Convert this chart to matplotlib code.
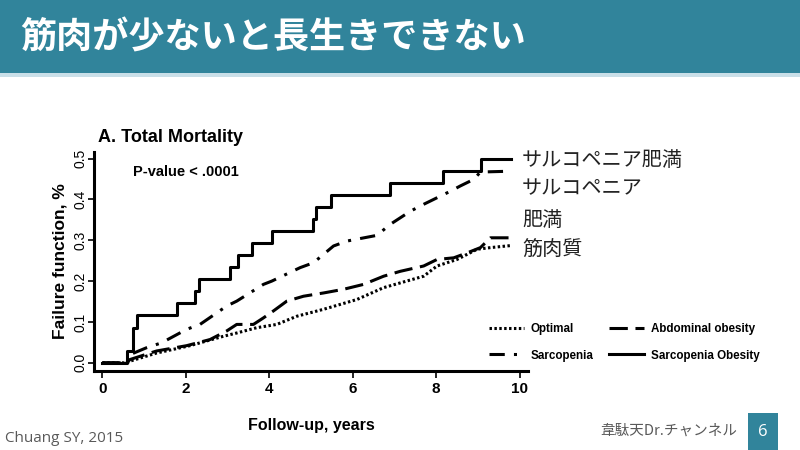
import matplotlib.pyplot as plt
from matplotlib.patches import Rectangle

# Sarcopenic obesity (step curve)
so_t = [0, 0.59, 0.74, 0.82, 1.78, 2.22, 2.32, 3.06, 3.24, 3.58, 4.07, 5.04, 5.12, 5.47, 6.90, 8.16, 9.07, 9.79]
so_v = [0.0, 0.029, 0.086, 0.118, 0.146, 0.176, 0.206, 0.234, 0.264, 0.294, 0.322, 0.353, 0.382, 0.411, 0.441, 0.470, 0.500, 0.500]

# Sarcopenia
sa_t = [0, 0.59, 0.66, 1.06, 1.42, 2.02, 2.34, 2.98, 3.22, 3.86, 4.06, 4.74, 5.06, 5.54, 5.86, 6.58, 6.90, 7.38, 7.70, 8.34, 8.58, 8.90, 9.06, 9.79]
sa_v = [0.0, 0.0, 0.020, 0.037, 0.049, 0.082, 0.094, 0.139, 0.151, 0.192, 0.200, 0.233, 0.245, 0.286, 0.298, 0.312, 0.339, 0.371, 0.388, 0.420, 0.433, 0.449, 0.467, 0.469]

# Abdominal obesity
ab_t = [0, 0.59, 0.66, 1.30, 2.02, 2.58, 2.98, 3.22, 3.62, 3.86, 4.10, 4.42, 4.82, 5.30, 5.78, 6.26, 6.74, 7.14, 7.70, 8.02, 8.42, 8.74, 9.06, 9.30, 9.79]
ab_v = [0.0, 0.0, 0.008, 0.029, 0.042, 0.057, 0.078, 0.094, 0.094, 0.110, 0.127, 0.151, 0.163, 0.171, 0.180, 0.192, 0.212, 0.224, 0.237, 0.253, 0.257, 0.269, 0.282, 0.306, 0.306]

# Optimal
op_t = [0, 0.59, 0.66, 1.30, 2.10, 2.90, 3.22, 3.70, 4.18, 4.66, 5.30, 6.10, 6.74, 7.70, 8.02, 8.50, 8.98, 9.30, 9.79]
op_v = [0.0, 0.0, 0.004, 0.024, 0.042, 0.065, 0.073, 0.086, 0.094, 0.114, 0.131, 0.155, 0.184, 0.212, 0.237, 0.253, 0.278, 0.282, 0.287]

x_ticks = [0, 2, 4, 6, 8, 10]
y_ticks = [0.0, 0.1, 0.2, 0.3, 0.4, 0.5]

right_labels = ["サルコペニア肥満", "サルコペニア", "肥満", "筋肉質"]
right_label_y = [160, 189, 220, 250]  # pixel rows

TEAL = "#31849B"
JP = ["Noto Sans CJK JP", "DejaVu Sans"]
ARIAL = ["Liberation Sans", "DejaVu Sans"]

fig = plt.figure(figsize=(8, 4.5), dpi=100)
fig.patch.set_facecolor("white")

# title band
fig.add_artist(Rectangle((0, 1 - 73 / 450), 1, 73 / 450, transform=fig.transFigure,
                         facecolor=TEAL, edgecolor="none"))
fig.add_artist(Rectangle((0, 1 - 77 / 450), 1, 4 / 450, transform=fig.transFigure,
                         facecolor="#C9DFE8", edgecolor="none"))
fig.text(20 / 800, 1 - 38 / 450, "筋肉が少ないと長生きできない", color="white",
         fontsize=26, fontweight="bold", family=JP, va="center", ha="left")

ax = fig.add_axes([94 / 800, 79 / 450, 434 / 800, 219 / 450])
lw = 2.2
ax.plot(op_t, op_v, color="black", lw=lw, linestyle=(0, (0.8, 0.8)), label="Optimal")
ax.plot(sa_t, sa_v, color="black", lw=lw, linestyle=(0, (5, 3, 1, 3)), label="Sarcopenia")
ax.plot(ab_t, ab_v, color="black", lw=lw, linestyle=(0, (6, 2.5)), label="Abdominal obesity")
ax.step(so_t, so_v, where="post", color="black", lw=lw, label="Sarcopenia Obesity")

ax.set_xlim(-0.2, 10.2)
ax.set_ylim(-0.02, 0.516)
ax.spines["top"].set_visible(False)
ax.spines["right"].set_visible(False)
for s in ("left", "bottom"):
    ax.spines[s].set_linewidth(2.2)
ax.set_xticks(x_ticks)
ax.set_yticks(y_ticks)
ax.set_xticklabels([str(v) for v in x_ticks], fontsize=11, fontweight="bold", family=ARIAL)
ax.set_yticklabels([f"{v:.1f}" for v in y_ticks], fontsize=10, family=ARIAL,
                   rotation=90, va="center")
ax.tick_params(axis="x", width=1.2, length=5, pad=3)
ax.tick_params(axis="y", width=1.2, length=4, pad=1)
ax.set_xlabel("Follow-up, years", fontsize=11.5, fontweight="bold", family=ARIAL, labelpad=16)
ax.set_ylabel("Failure function, %", fontsize=12.5, fontweight="bold", family=ARIAL, labelpad=4)

fig.text(98 / 800, 1 - 137 / 450, "A. Total Mortality", fontsize=13, fontweight="bold",
         family=ARIAL, va="center", ha="left")
fig.text(133 / 800, 1 - 172 / 450, "P-value < .0001", fontsize=10.5, fontweight="bold",
         family=ARIAL, va="center", ha="left")

ax.legend(ncol=2, loc="lower left", bbox_to_anchor=(478 / 800, 78 / 450),
          bbox_transform=fig.transFigure, frameon=False,
          prop={"family": ARIAL, "weight": "bold", "size": 8.4},
          handlelength=3.0, handletextpad=0.6, columnspacing=1.3, labelspacing=1.25)

for lab, py in zip(right_labels, right_label_y):
    fig.text(522 / 800, 1 - py / 450, lab, fontsize=14.5, family=JP, color="#222222",
             va="center", ha="left")

# footer
fig.text(5 / 800, 1 - 438 / 450, "Chuang SY, 2015", fontsize=11, family=["Open Sans", "DejaVu Sans"],
         color="#595959", va="center", ha="left")
fig.text(737 / 800, 1 - 431 / 450, "韋駄天Dr.チャンネル", fontsize=10.5, family=JP,
         color="#595959", va="center", ha="right")
fig.add_artist(Rectangle((748 / 800, 0), 30 / 800, 37 / 450, transform=fig.transFigure,
                         facecolor=TEAL, edgecolor="none"))
fig.text(763 / 800, 1 - 432 / 450, "6", fontsize=12, family=["Open Sans", "DejaVu Sans"],
         color="white", va="center", ha="center")

fig.savefig("out.png", dpi=100)
